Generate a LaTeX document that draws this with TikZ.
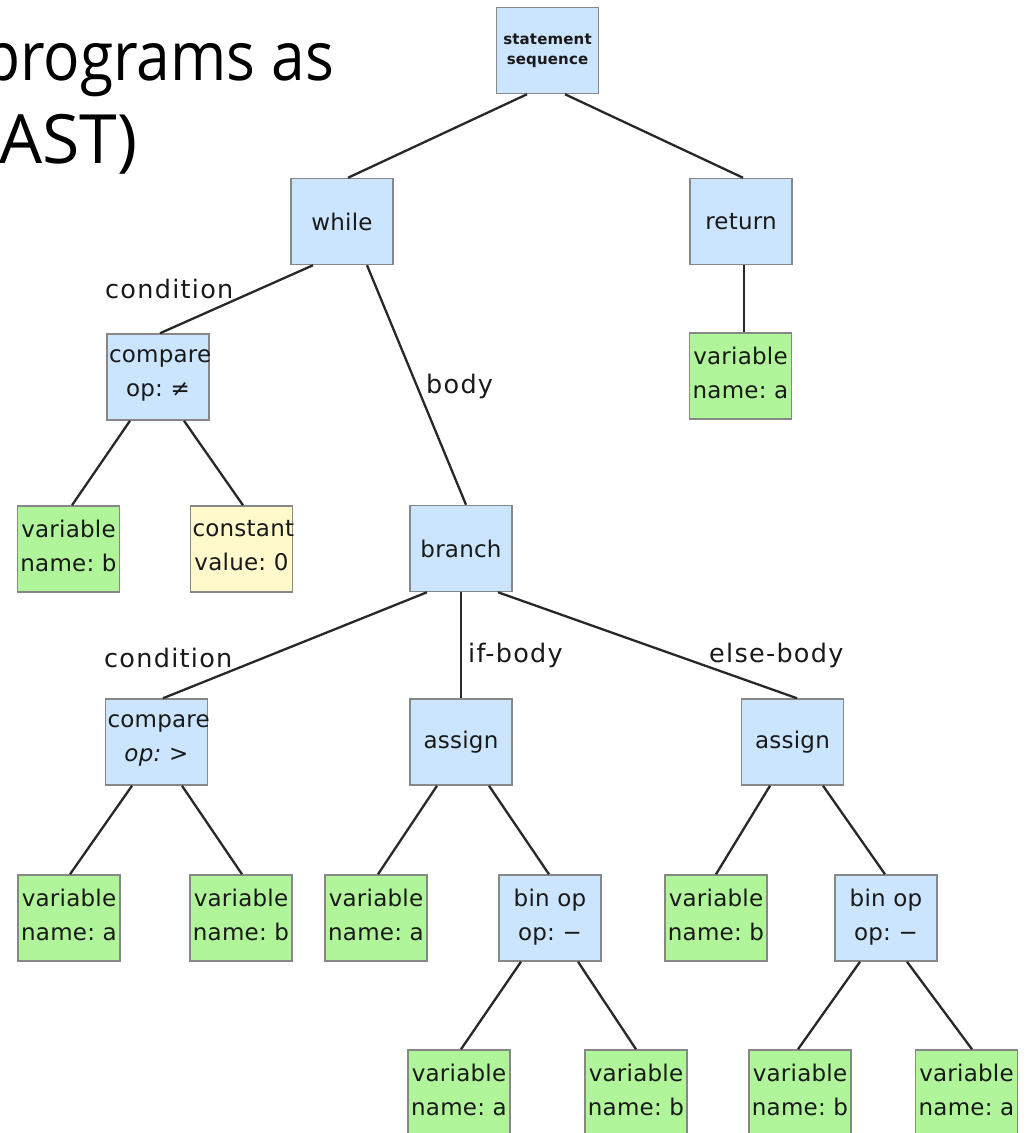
\documentclass[tikz,border=0pt]{standalone}
\usepackage{fontspec}
\newfontfamily\dvs[LetterSpace=1]{DejaVu Sans}
\newfontfamily\dvl[LetterSpace=5]{DejaVu Sans}
\newfontfamily\titlefont{Open Sans}
\usetikzlibrary{calc}
\definecolor{nblue}{RGB}{204,229,255}
\definecolor{ngreen}{RGB}{176,245,153}
\definecolor{nyellow}{RGB}{255,249,204}
\definecolor{nborder}{RGB}{135,135,135}
\definecolor{edgecol}{RGB}{40,40,40}
\tikzset{
  box/.style={draw=nborder, line width=1.5pt, minimum width=102pt, minimum height=86pt,
    inner xsep=2pt, inner ysep=0pt, text width=98pt, align=center,
    font=\dvs\fontsize{23}{34}\selectfont, text=black!90},
  opbox/.style={box, fill=nblue},
  varbox/.style={box, fill=ngreen},
  constbox/.style={box, fill=nyellow},
  twoline/.style={execute at end node={\rule[-7pt]{0pt}{0pt}}},
  edge/.style={draw=edgecol, line width=2.3pt},
  lbl/.style={font=\dvl\fontsize{25.5}{30}\selectfont, inner sep=0pt, anchor=base west, text=black!90},
  titletext/.style={font=\titlefont\fontsize{68}{80}\selectfont, inner sep=0pt, anchor=base west},
}
\begin{document}
\begin{tikzpicture}[x=1pt,y=-1pt]
\useasboundingbox (0,0) rectangle (1026,1133);
\clip (0,0) rectangle (1026,1133);
% title fragment
\node[titletext] (t1) at (-17,80) {\scalebox{0.89}[1]{programs as}};
\node[titletext] (t2) at (-1,163) {AST)};
% nodes
\node[opbox, font=\dvs\bfseries\fontsize{15}{20}\selectfont] (seq) at (547.5,50.5) {statement\\sequence};
\node[opbox] (while) at (342,221.5) {while};
\node[opbox] (ret) at (741,221.5) {return};
\node[opbox, twoline] (cmpa) at (158,377) {compare\\op:~≠};
\node[varbox, twoline] (retvar) at (740.5,376) {variable\\name:~a};
\node[varbox, twoline] (vb1) at (68.5,549) {variable\\name:~b};
\node[constbox, twoline] (const) at (241.5,549) {constant\\value:~0};
\node[opbox] (branch) at (461,548.5) {branch};
\node[opbox, twoline] (cmpb) at (156.5,742) {compare\\\textit{op:~>}};
\node[opbox] (asg1) at (461,742) {assign};
\node[opbox] (asg2) at (792.5,742) {assign};
\node[varbox, twoline] (va2) at (69,918) {variable\\name:~a};
\node[varbox, twoline] (vb2) at (241,918) {variable\\name:~b};
\node[varbox, twoline] (va3) at (376,918) {variable\\name:~a};
\node[opbox, twoline] (bin1) at (550,918) {bin~op\\op:~−};
\node[varbox, twoline] (vb3) at (716,918) {variable\\name:~b};
\node[opbox, twoline] (bin2) at (886,918) {bin~op\\op:~−};
\node[varbox, twoline] (va4) at (459,1093) {variable\\name:~a};
\node[varbox, twoline] (vb4) at (636,1093) {variable\\name:~b};
\node[varbox, twoline] (vb5) at (800,1093) {variable\\name:~b};
\node[varbox, twoline] (va5) at (966.5,1093) {variable\\name:~a};
% edges
\draw[edge] ([xshift=-20.5pt]seq.south) -- ([xshift=6pt]while.north);
\draw[edge] ([xshift=17.5pt]seq.south) -- ([xshift=2pt]ret.north);
\draw[edge] ([xshift=-29pt]while.south) -- ([xshift=2pt]cmpa.north);
\draw[edge] ([xshift=25pt]while.south) -- ([xshift=5pt]branch.north);
\draw[edge] ([xshift=3pt]ret.south) -- ([xshift=3.5pt]retvar.north);
\draw[edge] ([xshift=-28pt]cmpa.south) -- ([xshift=3.5pt]vb1.north);
\draw[edge] ([xshift=26pt]cmpa.south) -- ([xshift=1.5pt]const.north);
\draw[edge] ([xshift=-34pt]branch.south) -- ([xshift=6.5pt]cmpb.north);
\draw[edge] (branch.south) -- (asg1.north);
\draw[edge] ([xshift=37pt]branch.south) -- ([xshift=4.5pt]asg2.north);
\draw[edge] ([xshift=-24.5pt]cmpb.south) -- ([xshift=1pt]va2.north);
\draw[edge] ([xshift=25.5pt]cmpb.south) -- ([xshift=1pt]vb2.north);
\draw[edge] ([xshift=-24pt]asg1.south) -- ([xshift=2pt]va3.north);
\draw[edge] ([xshift=28pt]asg1.south) -- ([xshift=-1pt]bin1.north);
\draw[edge] ([xshift=-22.5pt]asg2.south) -- (vb3.north);
\draw[edge] ([xshift=30.5pt]asg2.south) -- ([xshift=-1pt]bin2.north);
\draw[edge] ([xshift=-29pt]bin1.south) -- ([xshift=2pt]va4.north);
\draw[edge] ([xshift=28pt]bin1.south) -- (vb4.north);
\draw[edge] ([xshift=-26pt]bin2.south) -- ([xshift=-2pt]vb5.north);
\draw[edge] ([xshift=21pt]bin2.south) -- ([xshift=5.5pt]va5.north);
% edge labels
\node[lbl] (lcond1) at (105,298) {condition};
\node[lbl] (lbody) at (426,393) {body};
\node[lbl] (lcond2) at (104,667) {condition};
\node[lbl] (lif) at (468,662) {if-body};
\node[lbl] (lelse) at (709,662) {else-body};
\end{tikzpicture}
\end{document}
